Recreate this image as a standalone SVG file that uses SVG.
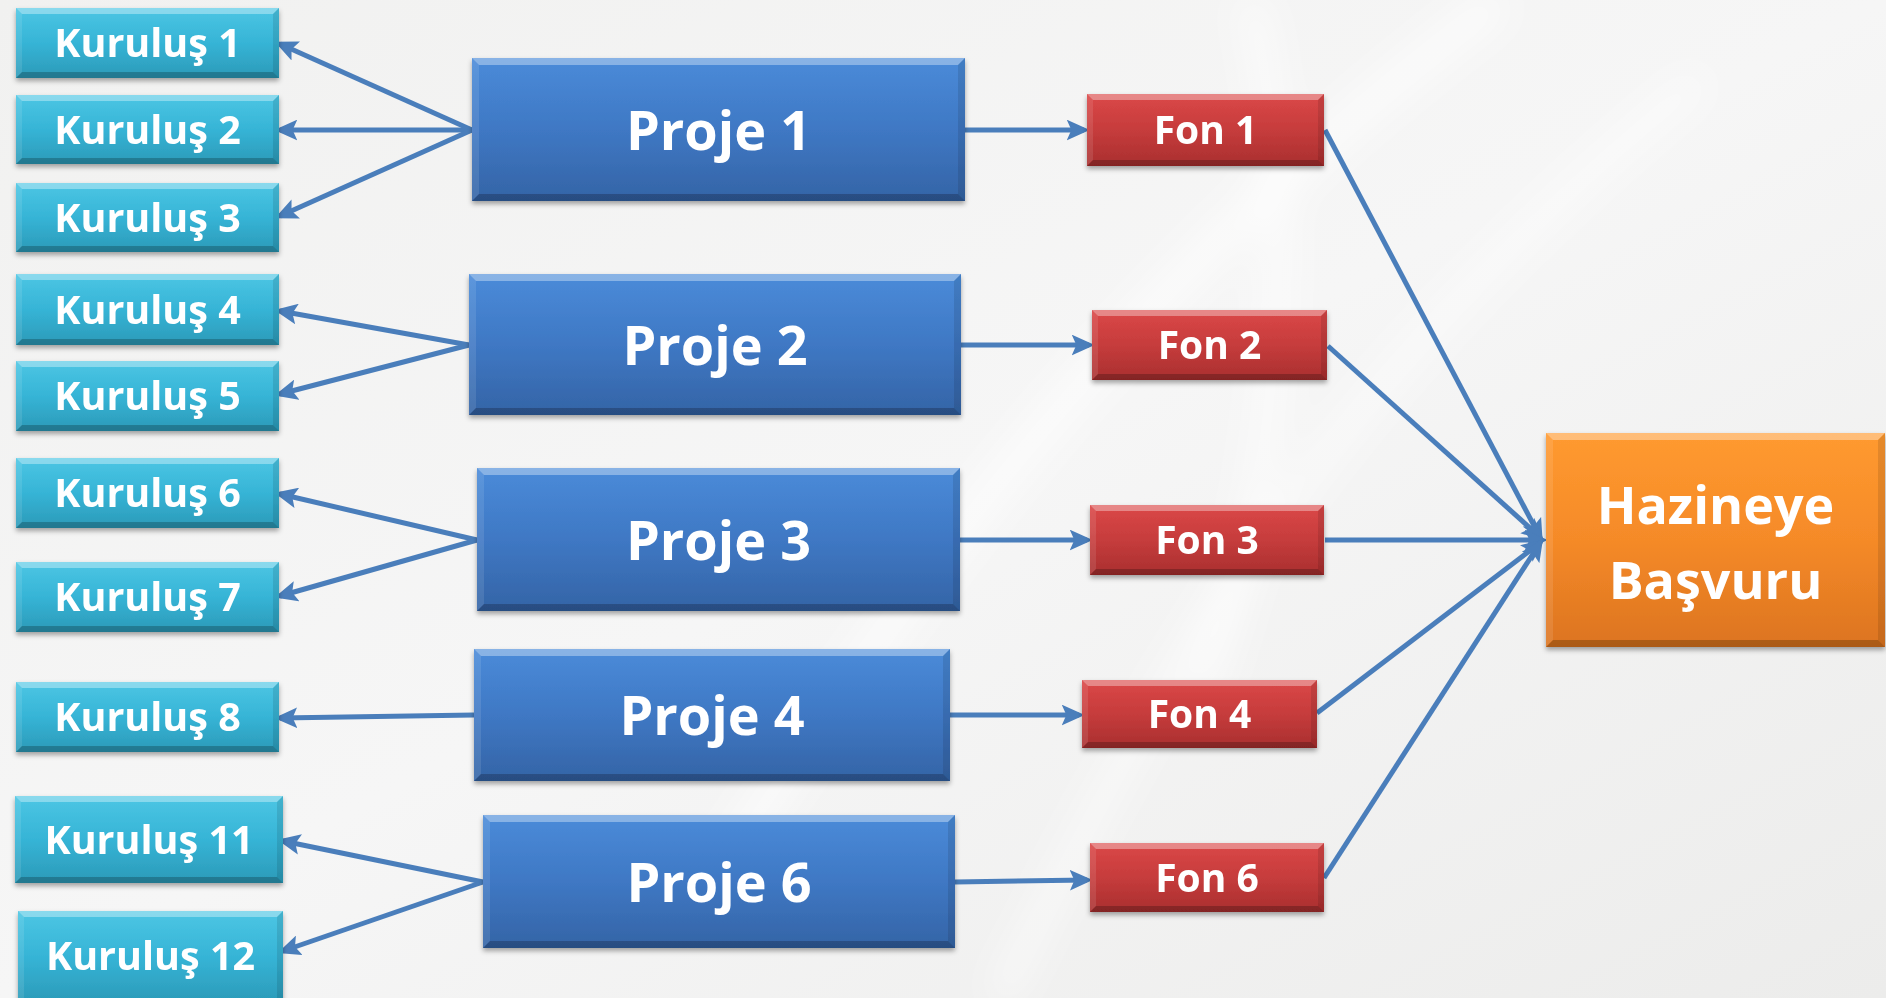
<svg xmlns="http://www.w3.org/2000/svg" width="1886" height="998" viewBox="0 0 1886 998">
<style>
text{font-family:"Open Sans","Liberation Sans",Arial,sans-serif;font-weight:bold;fill:#fff;text-anchor:middle}
.tk{font-size:39.5px}.tp{font-size:54px}.tf{font-size:39px}.th{font-size:52px}
.k{fill:url(#gk)}.p{fill:url(#gp)}.f{fill:url(#gf)}.h{fill:url(#gh)}
.hl{fill:#fff;fill-opacity:.35}.sl{fill:#fff;fill-opacity:.1}.sd{fill:#000;fill-opacity:.1}.bd{fill:#000;fill-opacity:.22}
.c{stroke:#4a7ebb;stroke-width:5;fill:none;marker-end:url(#ah)}
.node{filter:url(#sh)}
</style>
<defs>
<linearGradient id="bg" x1="0" y1="0" x2="1" y2="1"><stop offset="0" stop-color="#f1f1f0"/><stop offset=".5" stop-color="#f6f6f6"/><stop offset="1" stop-color="#ececeb"/></linearGradient>
<linearGradient id="gk" x1="0" y1="0" x2="0" y2="1"><stop offset="0" stop-color="#4cc6e4"/><stop offset=".5" stop-color="#36b4d6"/><stop offset="1" stop-color="#2b9ab8"/></linearGradient>
<linearGradient id="gp" x1="0" y1="0" x2="0" y2="1"><stop offset="0" stop-color="#4a8bd9"/><stop offset=".5" stop-color="#3f78c4"/><stop offset="1" stop-color="#3464a6"/></linearGradient>
<linearGradient id="gf" x1="0" y1="0" x2="0" y2="1"><stop offset="0" stop-color="#db4848"/><stop offset=".5" stop-color="#c63c3c"/><stop offset="1" stop-color="#a92f2f"/></linearGradient>
<linearGradient id="gh" x1="0" y1="0" x2="0" y2="1"><stop offset="0" stop-color="#ff9a30"/><stop offset=".5" stop-color="#f58a28"/><stop offset="1" stop-color="#dc7420"/></linearGradient>
<filter id="sh" x="-5%" y="-10%" width="110%" height="125%"><feDropShadow dx="0" dy="3" stdDeviation="2.5" flood-color="#000" flood-opacity=".35"/></filter>
<filter id="bl"><feGaussianBlur stdDeviation="18"/></filter>
<marker id="ah" markerUnits="userSpaceOnUse" markerWidth="23" markerHeight="21" viewBox="0 0 20 18" refX="15" refY="9" orient="auto"><path d="M0,0 L20,9 L0,18 L4,9 z" fill="#4a7ebb"/></marker>
</defs>
<rect width="1886" height="998" fill="url(#bg)"/>
<g filter="url(#bl)" stroke="#fff" fill="none" stroke-opacity=".7">
<path d="M700,900 C900,600 1100,300 1500,0" stroke-width="30"/>
<path d="M1000,998 C1150,700 1300,400 1700,80" stroke-width="20"/>
<path d="M1250,0 C1300,200 1280,500 1200,700" stroke-width="25"/>
</g>
<g id="connectors">
<line class="c" x1="472" y1="130" x2="280" y2="44"/>
<line class="c" x1="472" y1="130" x2="280" y2="130"/>
<line class="c" x1="472" y1="130" x2="280" y2="216"/>
<line class="c" x1="469" y1="345" x2="280" y2="311"/>
<line class="c" x1="469" y1="345" x2="280" y2="394"/>
<line class="c" x1="477" y1="540" x2="280" y2="494"/>
<line class="c" x1="477" y1="540" x2="280" y2="596"/>
<line class="c" x1="474" y1="715" x2="280" y2="718"/>
<line class="c" x1="483" y1="882" x2="283" y2="841"/>
<line class="c" x1="483" y1="882" x2="283" y2="951"/>
<line class="c" x1="965" y1="130" x2="1084" y2="130"/>
<line class="c" x1="961" y1="345" x2="1089" y2="345"/>
<line class="c" x1="960" y1="540" x2="1087" y2="540"/>
<line class="c" x1="950" y1="715" x2="1079" y2="715"/>
<line class="c" x1="955" y1="882" x2="1087" y2="880"/>
<line class="c" x1="1325" y1="130" x2="1540" y2="537"/>
<line class="c" x1="1328" y1="346" x2="1540" y2="537"/>
<line class="c" x1="1325" y1="540" x2="1542" y2="540"/>
<line class="c" x1="1317" y1="713" x2="1540" y2="543"/>
<line class="c" x1="1324" y1="878" x2="1540" y2="543"/>
</g>
<g id="kurulus1" class="node"><rect class="k" x="16" y="8" width="263" height="70"/><path class="hl" d="M16,8h263l-6,6h-251z"/><path class="sl" d="M16,8l6,6v58l-6,6z"/><path class="sd" d="M279,8v70l-6,-6v-58z"/><path class="bd" d="M16,78h263l-6,-6h-251z"/><text class="tk" x="147.5" y="57">Kuruluş 1</text></g>
<g id="kurulus2" class="node"><rect class="k" x="16" y="95" width="263" height="69"/><path class="hl" d="M16,95h263l-6,6h-251z"/><path class="sl" d="M16,95l6,6v57l-6,6z"/><path class="sd" d="M279,95v69l-6,-6v-57z"/><path class="bd" d="M16,164h263l-6,-6h-251z"/><text class="tk" x="147.5" y="143.5">Kuruluş 2</text></g>
<g id="kurulus3" class="node"><rect class="k" x="16" y="183" width="263" height="69"/><path class="hl" d="M16,183h263l-6,6h-251z"/><path class="sl" d="M16,183l6,6v57l-6,6z"/><path class="sd" d="M279,183v69l-6,-6v-57z"/><path class="bd" d="M16,252h263l-6,-6h-251z"/><text class="tk" x="147.5" y="231.5">Kuruluş 3</text></g>
<g id="kurulus4" class="node"><rect class="k" x="16" y="274" width="263" height="71"/><path class="hl" d="M16,274h263l-6,6h-251z"/><path class="sl" d="M16,274l6,6v59l-6,6z"/><path class="sd" d="M279,274v71l-6,-6v-59z"/><path class="bd" d="M16,345h263l-6,-6h-251z"/><text class="tk" x="147.5" y="323.5">Kuruluş 4</text></g>
<g id="kurulus5" class="node"><rect class="k" x="16" y="361" width="263" height="70"/><path class="hl" d="M16,361h263l-6,6h-251z"/><path class="sl" d="M16,361l6,6v58l-6,6z"/><path class="sd" d="M279,361v70l-6,-6v-58z"/><path class="bd" d="M16,431h263l-6,-6h-251z"/><text class="tk" x="147.5" y="410">Kuruluş 5</text></g>
<g id="kurulus6" class="node"><rect class="k" x="16" y="458" width="263" height="70"/><path class="hl" d="M16,458h263l-6,6h-251z"/><path class="sl" d="M16,458l6,6v58l-6,6z"/><path class="sd" d="M279,458v70l-6,-6v-58z"/><path class="bd" d="M16,528h263l-6,-6h-251z"/><text class="tk" x="147.5" y="507">Kuruluş 6</text></g>
<g id="kurulus7" class="node"><rect class="k" x="16" y="562" width="263" height="70"/><path class="hl" d="M16,562h263l-6,6h-251z"/><path class="sl" d="M16,562l6,6v58l-6,6z"/><path class="sd" d="M279,562v70l-6,-6v-58z"/><path class="bd" d="M16,632h263l-6,-6h-251z"/><text class="tk" x="147.5" y="611">Kuruluş 7</text></g>
<g id="kurulus8" class="node"><rect class="k" x="16" y="682" width="263" height="70"/><path class="hl" d="M16,682h263l-6,6h-251z"/><path class="sl" d="M16,682l6,6v58l-6,6z"/><path class="sd" d="M279,682v70l-6,-6v-58z"/><path class="bd" d="M16,752h263l-6,-6h-251z"/><text class="tk" x="147.5" y="731">Kuruluş 8</text></g>
<g id="kurulus11" class="node"><rect class="k" x="15" y="796" width="268" height="87"/><path class="hl" d="M15,796h268l-6,6h-256z"/><path class="sl" d="M15,796l6,6v75l-6,6z"/><path class="sd" d="M283,796v87l-6,-6v-75z"/><path class="bd" d="M15,883h268l-6,-6h-256z"/><text class="tk" x="149" y="853.5">Kuruluş 11</text></g>
<g id="kurulus12" class="node"><rect class="k" x="18" y="911" width="265" height="92"/><path class="hl" d="M18,911h265l-6,6h-253z"/><path class="sl" d="M18,911l6,6v86l-6,0z"/><path class="sd" d="M283,911v92h-6v-86z"/><text class="tk" x="150.5" y="970">Kuruluş 12</text></g>
<g id="proje1" class="node"><rect class="p" x="472" y="58" width="493" height="143"/><path class="hl" d="M472,58h493l-7,7h-479z"/><path class="sl" d="M472,58l7,7v129l-7,7z"/><path class="sd" d="M965,58v143l-7,-7v-129z"/><path class="bd" d="M472,201h493l-7,-7h-479z"/><text class="tp" x="718.5" y="150">Proje 1</text></g>
<g id="proje2" class="node"><rect class="p" x="469" y="274" width="492" height="141"/><path class="hl" d="M469,274h492l-7,7h-478z"/><path class="sl" d="M469,274l7,7v127l-7,7z"/><path class="sd" d="M961,274v141l-7,-7v-127z"/><path class="bd" d="M469,415h492l-7,-7h-478z"/><text class="tp" x="715" y="365">Proje 2</text></g>
<g id="proje3" class="node"><rect class="p" x="477" y="468" width="483" height="143"/><path class="hl" d="M477,468h483l-7,7h-469z"/><path class="sl" d="M477,468l7,7v129l-7,7z"/><path class="sd" d="M960,468v143l-7,-7v-129z"/><path class="bd" d="M477,611h483l-7,-7h-469z"/><text class="tp" x="718.5" y="560">Proje 3</text></g>
<g id="proje4" class="node"><rect class="p" x="474" y="649" width="476" height="132"/><path class="hl" d="M474,649h476l-7,7h-462z"/><path class="sl" d="M474,649l7,7v118l-7,7z"/><path class="sd" d="M950,649v132l-7,-7v-118z"/><path class="bd" d="M474,781h476l-7,-7h-462z"/><text class="tp" x="712" y="735">Proje 4</text></g>
<g id="proje6" class="node"><rect class="p" x="483" y="815" width="472" height="133"/><path class="hl" d="M483,815h472l-7,7h-458z"/><path class="sl" d="M483,815l7,7v119l-7,7z"/><path class="sd" d="M955,815v133l-7,-7v-119z"/><path class="bd" d="M483,948h472l-7,-7h-458z"/><text class="tp" x="719" y="902">Proje 6</text></g>
<g id="fon1" class="node"><rect class="f" x="1087" y="94" width="237" height="72"/><path class="hl" d="M1087,94h237l-6,6h-225z"/><path class="sl" d="M1087,94l6,6v60l-6,6z"/><path class="sd" d="M1324,94v72l-6,-6v-60z"/><path class="bd" d="M1087,166h237l-6,-6h-225z"/><text class="tf" x="1205.5" y="144">Fon 1</text></g>
<g id="fon2" class="node"><rect class="f" x="1092" y="310" width="235" height="70"/><path class="hl" d="M1092,310h235l-6,6h-223z"/><path class="sl" d="M1092,310l6,6v58l-6,6z"/><path class="sd" d="M1327,310v70l-6,-6v-58z"/><path class="bd" d="M1092,380h235l-6,-6h-223z"/><text class="tf" x="1209.5" y="359">Fon 2</text></g>
<g id="fon3" class="node"><rect class="f" x="1090" y="505" width="234" height="70"/><path class="hl" d="M1090,505h234l-6,6h-222z"/><path class="sl" d="M1090,505l6,6v58l-6,6z"/><path class="sd" d="M1324,505v70l-6,-6v-58z"/><path class="bd" d="M1090,575h234l-6,-6h-222z"/><text class="tf" x="1207" y="554">Fon 3</text></g>
<g id="fon4" class="node"><rect class="f" x="1082" y="680" width="235" height="68"/><path class="hl" d="M1082,680h235l-6,6h-223z"/><path class="sl" d="M1082,680l6,6v56l-6,6z"/><path class="sd" d="M1317,680v68l-6,-6v-56z"/><path class="bd" d="M1082,748h235l-6,-6h-223z"/><text class="tf" x="1199.5" y="728">Fon 4</text></g>
<g id="fon6" class="node"><rect class="f" x="1090" y="843" width="234" height="69"/><path class="hl" d="M1090,843h234l-6,6h-222z"/><path class="sl" d="M1090,843l6,6v57l-6,6z"/><path class="sd" d="M1324,843v69l-6,-6v-57z"/><path class="bd" d="M1090,912h234l-6,-6h-222z"/><text class="tf" x="1207" y="891.5">Fon 6</text></g>
<g id="hazine" class="node"><rect class="h" x="1546" y="433" width="339" height="214"/><path class="hl" d="M1546,433h339l-7,7h-325z"/><path class="sl" d="M1546,433l7,7v200l-7,7z"/><path class="sd" d="M1885,433v214l-7,-7v-200z"/><path class="bd" d="M1546,647h339l-7,-7h-325z"/><text class="th" x="1715.5" y="524">Hazineye</text><text class="th" x="1715.5" y="599">Başvuru</text></g>
</svg>
